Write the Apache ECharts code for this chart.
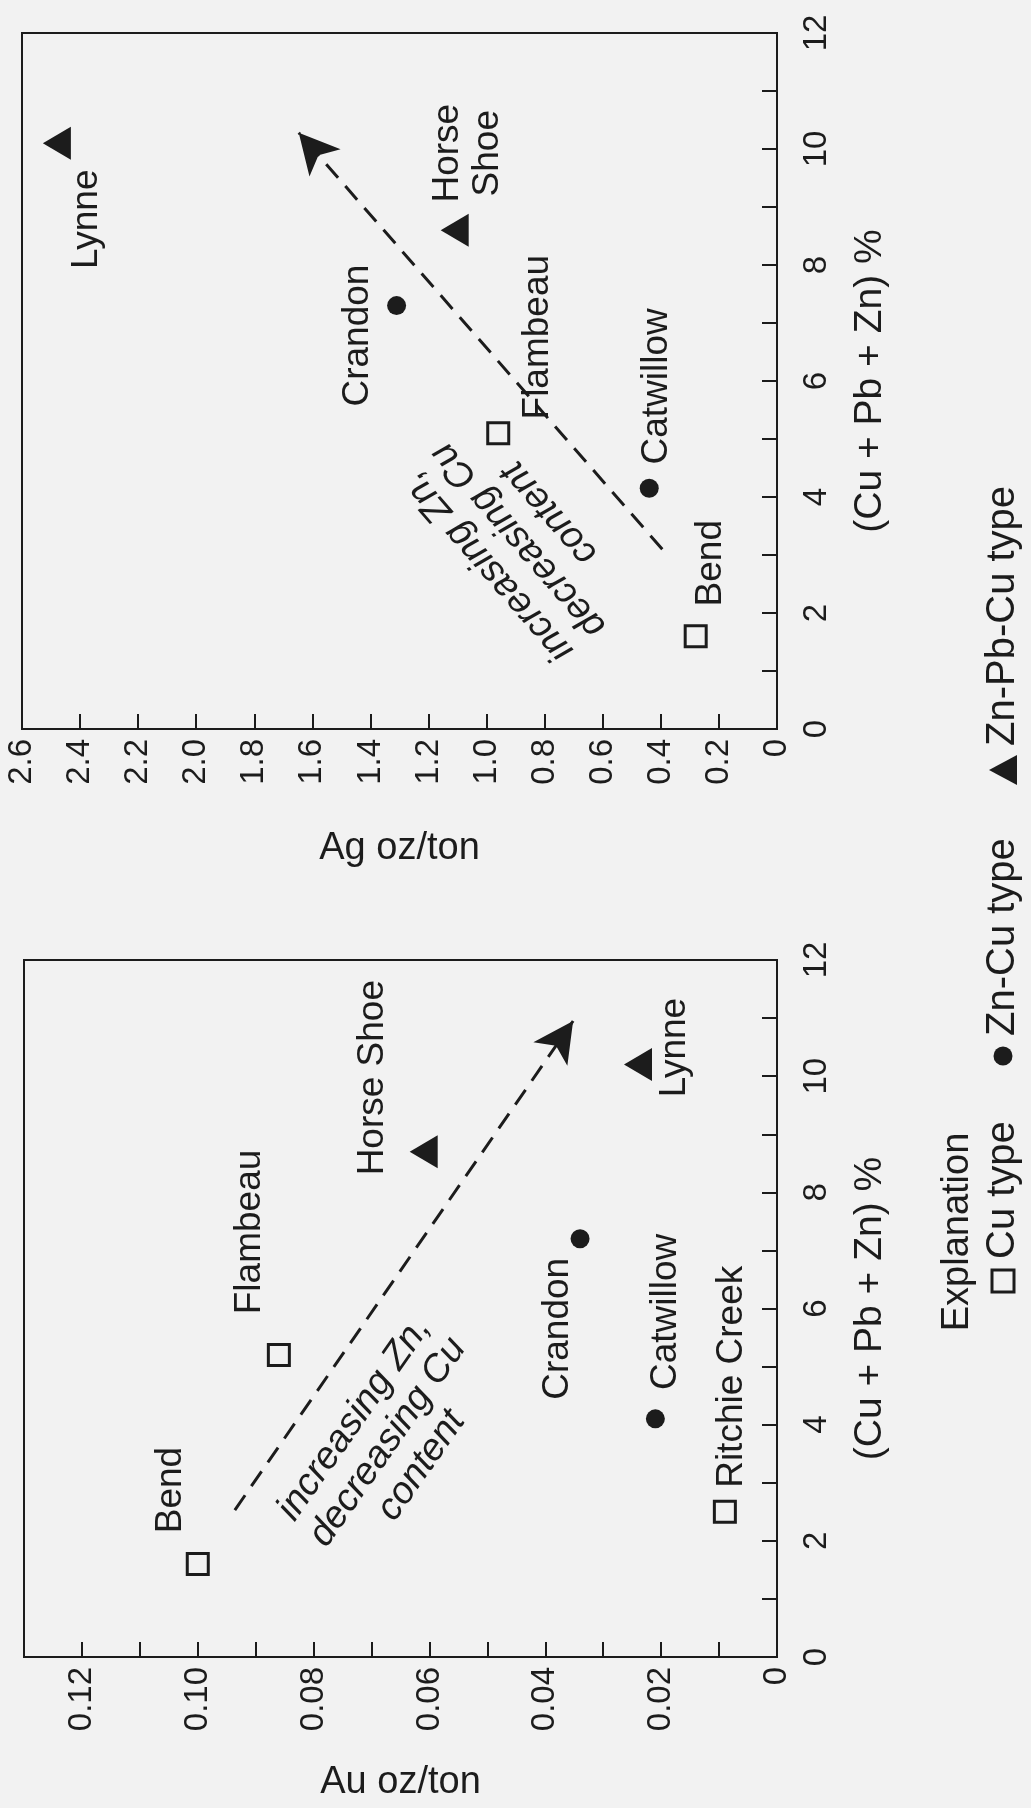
<!DOCTYPE html>
<html>
<head>
<meta charset="utf-8">
<script src="https://cdn.jsdelivr.net/npm/echarts@6/dist/echarts.min.js"></script>
<style>
html,body{margin:0;padding:0;background:#f2f2f2;}
#c{width:1031px;height:1808px;}
</style>
</head>
<body>
<div id="c"></div>
<script>
// ---------- data ----------
// Au panel
const auNames = ['Bend', 'Flambeau', 'Ritchie Creek', 'Catwillow', 'Crandon', 'Horse Shoe', 'Lynne'];
const auTypes = ['Cu', 'Cu', 'Cu', 'Zn-Cu', 'Zn-Cu', 'Zn-Pb-Cu', 'Zn-Pb-Cu'];
const auMetal = [1.6, 5.2, 2.5, 4.1, 7.2, 8.7, 10.2];          // (Cu + Pb + Zn) %
const auOz    = [0.100, 0.086, 0.009, 0.021, 0.034, 0.061, 0.024]; // Au oz/ton
// Ag panel
const agNames = ['Bend', 'Flambeau', 'Catwillow', 'Crandon', 'Horse Shoe', 'Lynne'];
const agTypes = ['Cu', 'Cu', 'Zn-Cu', 'Zn-Cu', 'Zn-Pb-Cu', 'Zn-Pb-Cu'];
const agMetal = [1.6, 5.1, 4.15, 7.3, 8.6, 10.1];               // (Cu + Pb + Zn) %
const agOz    = [0.28, 0.96, 0.44, 1.31, 1.11, 2.48];           // Ag oz/ton

// tick labels
const metalTicks = [0, 2, 4, 6, 8, 10, 12];
const metalTickLabels = ['0', '2', '4', '6', '8', '10', '12'];
const auTicks = [0, 0.02, 0.04, 0.06, 0.08, 0.10, 0.12];
const auTickLabels = ['0', '0.02', '0.04', '0.06', '0.08', '0.10', '0.12'];
const agTicks = [0, 0.2, 0.4, 0.6, 0.8, 1.0, 1.2, 1.4, 1.6, 1.8, 2.0, 2.2, 2.4, 2.6];
const agTickLabels = ['0', '0.2', '0.4', '0.6', '0.8', '1.0', '1.2', '1.4', '1.6', '1.8', '2.0', '2.2', '2.4', '2.6'];

// trend arrows [start, end] as [oz/ton, metal %]
const auArrow = [[0.0936, 2.53], [0.0352, 10.95]];
const agArrow = [[0.395, 3.1], [1.647, 10.28]];
// trend-note anchors [oz/ton, metal %]
const auNoteAt = [0.0672, 3.70];
const agNoteAt = [0.890, 3.26];
const noteText = 'increasing Zn,\ndecreasing Cu\ncontent';

const typeKeys = ['Cu', 'Zn-Cu', 'Zn-Pb-Cu'];
const typeNames = ['Cu type', 'Zn-Cu type', 'Zn-Pb-Cu type'];

// ---------- styling / placement ----------
const FONT = "'Liberation Sans', Arial, Helvetica, sans-serif";
const INK = '#1c1c1c';
// screen shift of each point label relative to its marker [dx, dy]
const auLabelShift = {
  'Bend': [-27, -74], 'Flambeau': [-29, -123], 'Ritchie Creek': [7, -135],
  'Catwillow': [10, -107], 'Crandon': [-22, 90], 'Horse Shoe': [-51, -74], 'Lynne': [37, -17]
};
const agLabelShift = {
  'Bend': [15, -73], 'Flambeau': [40, -96], 'Catwillow': [8, -102],
  'Crandon': [-39, 30], 'Horse Shoe': [13, -77], 'Lynne': [30, 76]
};
const agLabelText = { 'Horse Shoe': 'Horse\nShoe' };

const symbolStyle = {
  'Cu': { symbol: 'rect', symbolSize: 21, symbolRotate: 0,
          itemStyle: { color: 'rgba(0,0,0,0)', borderColor: INK, borderWidth: 3, opacity: 1 } },
  'Zn-Cu': { symbol: 'circle', symbolSize: 19, symbolRotate: 0,
          itemStyle: { color: INK, opacity: 1 } },
  'Zn-Pb-Cu': { symbol: 'triangle', symbolSize: [33, 28], symbolRotate: 90,
          itemStyle: { color: INK, opacity: 1 } }
};

function tickFormatter(ticks, labels) {
  return function (v) {
    for (let i = 0; i < ticks.length; i++) {
      if (Math.abs(v - ticks[i]) < 1e-9) return labels[i];
    }
    return '';
  };
}

function makeSeries(idx, names, types, metal, oz, shifts, textMap, arrow) {
  return typeKeys.map(function (k, ti) {
    const st = symbolStyle[k];
    const data = [];
    names.forEach(function (n, i) {
      if (types[i] !== k) return;
      const s = shifts[n] || [0, 0];
      data.push({ name: n, value: [oz[i], metal[i]],
                  label: { offset: [-s[1], s[0]] } });
    });
    const ser = {
      type: 'scatter', name: typeNames[ti], xAxisIndex: idx, yAxisIndex: idx,
      symbol: st.symbol, symbolSize: st.symbolSize, symbolRotate: st.symbolRotate,
      itemStyle: st.itemStyle, data: data, z: 5,
      label: {
        show: true, position: 'inside', rotate: 90, align: 'center', verticalAlign: 'middle',
        formatter: function (p) { return textMap[p.name] || p.name; },
        color: INK, opacity: 1, fontSize: 37, fontFamily: FONT, lineHeight: 40,
        textBorderWidth: 0
      },
      emphasis: { disabled: true }
    };
    if (ti === 0) {
      ser.markLine = {
        silent: true, symbol: ['none', 'arrow'], symbolSize: [31, 40],
        label: { show: false },
        lineStyle: { color: INK, width: 3, type: [18, 11], opacity: 1 },
        data: [[{ coord: arrow[0] }, { coord: arrow[1] }]]
      };
    }
    return ser;
  });
}

function valueAxisX(idx, max, interval, ticks, labels, name, gap) {
  return {
    type: 'value', gridIndex: idx, min: 0, max: max, interval: interval, inverse: true,
    position: 'bottom', name: name, nameLocation: 'middle', nameGap: gap,
    nameTextStyle: { fontSize: 38, fontFamily: FONT, color: INK },
    axisLine: { show: true, onZero: false, lineStyle: { color: INK, width: 2 } },
    axisTick: { show: true, inside: true, length: 15, lineStyle: { color: INK, width: 2 } },
    axisLabel: { rotate: 90, margin: 10, fontSize: 33, fontFamily: FONT, color: INK,
                 formatter: tickFormatter(ticks, labels) },
    splitLine: { show: false }
  };
}
function metalAxisY(idx) {
  return {
    type: 'value', gridIndex: idx, min: 0, max: 12, interval: 1, position: 'right',
    name: '(Cu + Pb + Zn) %', nameLocation: 'middle', nameRotate: 90, nameGap: 74,
    nameTextStyle: { fontSize: 39, fontFamily: FONT, color: INK },
    axisLine: { show: true, onZero: false, lineStyle: { color: INK, width: 2 } },
    axisTick: { show: true, inside: true, length: 15, lineStyle: { color: INK, width: 2 } },
    axisLabel: { rotate: 90, margin: 23, fontSize: 33, fontFamily: FONT, color: INK,
                 formatter: tickFormatter(metalTicks, metalTickLabels) },
    splitLine: { show: false }
  };
}

const chart = echarts.init(document.getElementById('c'), null, { renderer: 'canvas' });
const option = {
  backgroundColor: '#f2f2f2',
  animation: false,
  textStyle: { fontFamily: FONT },
  grid: [
    { left: 22, top: 33, width: 755, height: 696, show: true, borderColor: INK, borderWidth: 2,
      backgroundColor: 'transparent', outerBoundsMode: 'none', containLabel: false },
    { left: 24, top: 960, width: 753, height: 697, show: true, borderColor: INK, borderWidth: 2,
      backgroundColor: 'transparent', outerBoundsMode: 'none', containLabel: false }
  ],
  xAxis: [
    valueAxisX(0, 2.6, 0.2, agTicks, agTickLabels, 'Ag oz/ton', 101),
    valueAxisX(1, 0.13, 0.01, auTicks, auTickLabels, 'Au oz/ton', 107)
  ],
  yAxis: [metalAxisY(0), metalAxisY(1)],
  series: [].concat(
    makeSeries(0, agNames, agTypes, agMetal, agOz, agLabelShift, agLabelText, agArrow),
    makeSeries(1, auNames, auTypes, auMetal, auOz, auLabelShift, {}, auArrow)
  )
};
chart.setOption(option);

// ---------- annotations and explanation (rotated text) ----------
const pAu = chart.convertToPixel({ gridIndex: 1 }, auNoteAt);
const pAg = chart.convertToPixel({ gridIndex: 0 }, agNoteAt);
function loc(sx, sy) { return { x: -sy, y: sx }; } // screen -> local frame of a group rotated 90deg

const legendSymbols = [
  { type: 'rect', shape: { x: -11, y: -11, width: 22, height: 22 },
    style: { fill: 'none', stroke: INK, lineWidth: 3 } },
  { type: 'circle', shape: { cx: 0, cy: 0, r: 9.5 }, style: { fill: INK } },
  { type: 'polygon', shape: { points: [[0, -14], [15, 14], [-15, 14]] }, style: { fill: INK } }
];
const legendSymbolAt = [[1003, 1281], [1003, 1056], [1003, 770]];
const legendTextAt = [[1003, 1259], [1003, 1036], [1003, 746]];
const legendChildren = [];
legendChildren.push(Object.assign({ type: 'text' }, loc(958, 1232), {
  style: { text: 'Explanation', fill: INK, font: '38px ' + FONT, textAlign: 'center', textVerticalAlign: 'middle' }
}));
typeNames.forEach(function (t, i) {
  legendChildren.push(Object.assign({}, legendSymbols[i], loc(legendSymbolAt[i][0], legendSymbolAt[i][1])));
  legendChildren.push(Object.assign({ type: 'text' }, loc(legendTextAt[i][0], legendTextAt[i][1]), {
    style: { text: t, fill: INK, font: '40px ' + FONT, textAlign: 'left', textVerticalAlign: 'middle' }
  }));
});

chart.setOption({
  graphic: [
    { type: 'text', x: pAu[0], y: pAu[1], rotation: 55 * Math.PI / 180,
      style: { text: noteText, fill: INK, font: 'italic 38px ' + FONT, textAlign: 'center',
               textVerticalAlign: 'middle', lineHeight: 41 } },
    { type: 'text', x: pAg[0], y: pAg[1], rotation: 131 * Math.PI / 180,
      style: { text: noteText, fill: INK, font: 'italic 38px ' + FONT, textAlign: 'center',
               textVerticalAlign: 'middle', lineHeight: 41 } },
    { type: 'group', x: 0, y: 0, rotation: Math.PI / 2, children: legendChildren }
  ]
});
</script>
</body>
</html>
